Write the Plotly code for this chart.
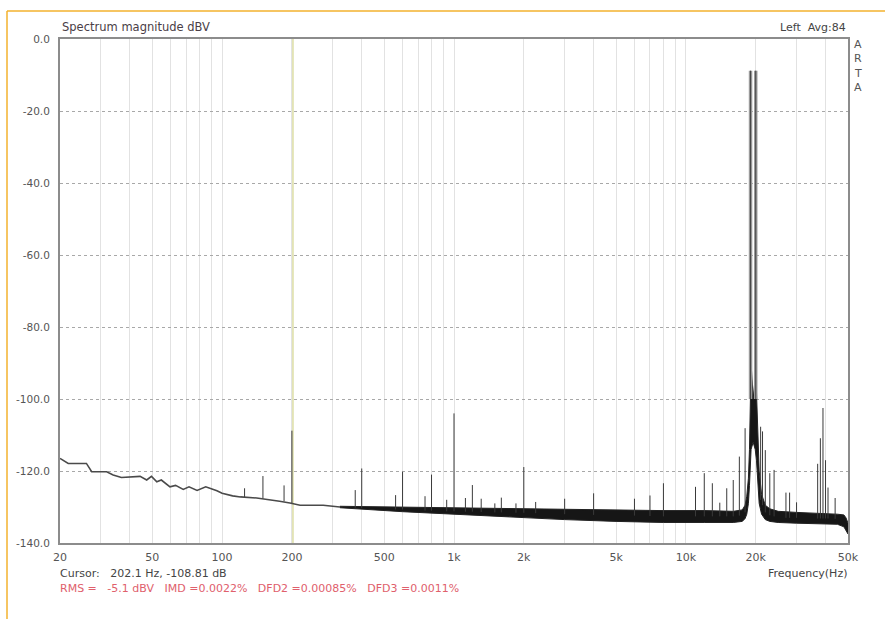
import plotly.graph_objects as go

# ---------------- data ----------------
# low-frequency part: a single thin line
low_freq = [20, 21.7, 26, 27.4, 31.8, 33.9, 36.8, 44.3, 47.3, 49.6, 52.3, 54.7, 59.6, 63, 68, 72, 78,
            85, 95, 100, 111, 120, 141, 166, 177, 196, 217, 273, 322]
low_db = [-116.5, -117.9, -117.9, -120.2, -120.2, -121.1, -121.8, -121.5, -122.5, -121.5, -123.0,
          -122.5, -124.4, -124.0, -125.1, -124.4, -125.4, -124.4, -125.5, -126.2, -126.9, -127.2,
          -127.5, -128.0, -128.4, -128.9, -129.5, -129.5, -130.0]

# higher-frequency part: a noisy band (upper and lower edges)
band_freq = [322, 418, 600, 1000, 1500, 2000, 3000, 5000, 8000, 12000, 16000, 17500, 18000, 18300,
             18600, 18800, 18950, 19100, 19500, 19900, 20150, 20400, 20700, 21200, 22000, 23000,
             25000, 30000, 40000, 45000, 48000, 49000, 50000]
band_hi = [-129.8, -129.9, -130.0, -130.2, -130.4, -130.6, -130.8, -131.0, -131.0, -131.0, -131.2,
           -130.8, -129.5, -127.0, -122.0, -114.0, -100.0, -90.0, -100.0, -94.0, -98.0, -110.0,
           -120.0, -126.5, -129.5, -130.5, -131.2, -131.5, -131.8, -132.0, -132.2, -133.0, -134.5]
band_lo = [-130.2, -130.7, -131.3, -132.0, -132.6, -133.0, -133.5, -134.0, -134.3, -134.3, -134.3,
           -134.0, -133.2, -132.0, -129.0, -124.0, -118.0, -114.0, -112.0, -114.0, -117.0, -124.0,
           -129.0, -132.0, -133.5, -134.0, -134.3, -134.5, -134.6, -134.8, -135.5, -136.5, -137.5]

spike_freq = [125, 150, 185, 200, 375, 400, 560, 600, 750, 800, 930, 1000, 1120, 1200, 1310, 1500,
              1600, 1850, 2000, 2250, 3000, 4000, 6000, 7000, 8000, 11000, 12000, 13000, 14000, 15000,
              16000, 17000, 18000, 21000, 21400, 22000, 23000, 24000, 27000, 28000, 30000, 37000,
              38000, 39000, 40000, 41000, 44000]
spike_peak = [-124.8, -121.4, -124.0, -108.8, -125.3, -119.3, -126.7, -120.2, -127.0, -121.0, -128.0,
              -104.0, -127.5, -123.9, -127.7, -129.0, -127.4, -129.0, -118.9, -128.6, -127.7, -126.2,
              -127.7, -126.8, -123.4, -124.4, -120.6, -123.4, -128.8, -124.8, -122.5, -116.0, -108.1,
              -107.7, -109.0, -114.2, -120.6, -119.7, -126.0, -126.0, -128.7, -118.0, -110.9, -102.5,
              -117.0, -124.6, -127.5]
spike_base = [-127.2, -127.6, -128.4, -128.9, -130.2, -130.3, -130.7, -130.7, -131.0, -131.0, -131.2,
              -131.2, -131.3, -131.3, -131.4, -131.5, -131.5, -131.6, -131.6, -131.7, -132.0, -132.2,
              -132.4, -132.5, -132.6, -132.6, -132.6, -132.6, -132.6, -132.6, -132.6, -132.4, -131.5,
              -128.0, -129.5, -131.5, -132.3, -132.6, -133.0, -133.0, -133.0, -133.2, -133.2, -133.2,
              -133.2, -133.2, -133.3]

tone_freq = [19000, 20000]
tone_peak = [-8.8, -8.8]
tone_base = [-100.0, -100.0]

cursor_freq = 202.1

y_ticks = [0, -20, -40, -60, -80, -100, -120, -140]
y_labels = ["0.0", "-20.0", "-40.0", "-60.0", "-80.0", "-100.0", "-120.0", "-140.0"]

grid_freq = [20, 30, 40, 50, 60, 70, 80, 90, 100, 200, 300, 400, 500, 600, 700, 800, 900, 1000,
             2000, 3000, 4000, 5000, 6000, 7000, 8000, 9000, 10000, 20000, 30000, 40000, 50000]
label_map = {20: "20", 50: "50", 100: "100", 200: "200", 500: "500", 1000: "1k", 2000: "2k",
             5000: "5k", 10000: "10k", 20000: "20k", 50000: "50k"}

# ---------------- figure ----------------
FONT = "DejaVu Sans"
fig = go.Figure()

# cursor line
fig.add_trace(go.Scatter(x=[cursor_freq, cursor_freq], y=[-140, 0], mode="lines",
                         line=dict(color="#d2d48c", width=1.2), hoverinfo="skip"))

# low-frequency floor line
fig.add_trace(go.Scatter(x=low_freq, y=low_db, mode="lines",
                         line=dict(color="#4a4a4a", width=1.6), hoverinfo="skip"))

# noise floor band
fig.add_trace(go.Scatter(x=band_freq, y=band_lo, mode="lines",
                         line=dict(color="#222222", width=1), hoverinfo="skip"))
fig.add_trace(go.Scatter(x=band_freq, y=band_hi, mode="lines", fill="tonexty",
                         fillcolor="#161616", line=dict(color="#222222", width=1), hoverinfo="skip"))

# spikes
sx, sy = [], []
for f, p, b in zip(spike_freq, spike_peak, spike_base):
    sx += [f, f, None]
    sy += [b, p, None]
fig.add_trace(go.Scatter(x=sx, y=sy, mode="lines", line=dict(color="#3a3a3a", width=1),
                         hoverinfo="skip"))

# main tones
tx, ty = [], []
for f, p, b in zip(tone_freq, tone_peak, tone_base):
    tx += [f, f, None]
    ty += [b, p, None]
fig.add_trace(go.Scatter(x=tx, y=ty, mode="lines", line=dict(color="#9a9a9a", width=3.5),
                         hoverinfo="skip"))
fig.add_trace(go.Scatter(x=tx, y=ty, mode="lines", line=dict(color="#444444", width=1),
                         hoverinfo="skip"))

L, R, T, B = 60, 37, 39, 76
W, H = 885, 619
pw, ph = W - L - R, H - T - B


def px(x):
    return (x - L) / pw


def py(y):
    return (H - B - y) / ph


fig.update_layout(
    width=W, height=H,
    margin=dict(l=L, r=R, t=T, b=B),
    paper_bgcolor="white", plot_bgcolor="white",
    showlegend=False,
    font=dict(family=FONT, size=11, color="#444"),
    xaxis=dict(type="log", range=[1.30103, 4.69897], tickmode="array",
               tickvals=grid_freq, ticktext=[label_map.get(f, "") for f in grid_freq],
               showgrid=True, gridcolor="#e2e2e2", gridwidth=1,
               showline=True, linecolor="#8c8c8c", linewidth=2, mirror=True,
               ticks="", ticklabelstandoff=3, zeroline=False,
               tickfont=dict(family=FONT, size=11, color="#555")),
    yaxis=dict(range=[-140, 0], tickmode="array", tickvals=y_ticks, ticktext=y_labels,
               showgrid=True, gridcolor="#a8a8a8", griddash="dot", gridwidth=1,
               showline=True, linecolor="#8c8c8c", linewidth=2, mirror=True,
               ticks="", ticklabelstandoff=6, zeroline=False,
               tickfont=dict(family=FONT, size=10.5, color="#555")),
)

# orange border (top and left)
fig.add_shape(type="line", xref="paper", yref="paper", x0=px(7), x1=px(890), y0=py(11), y1=py(11),
              line=dict(color="#f3b22e", width=1.5))
fig.add_shape(type="line", xref="paper", yref="paper", x0=px(7), x1=px(7), y0=py(11), y1=py(625),
              line=dict(color="#f3b22e", width=1.5))

ann = [
    dict(text="Spectrum magnitude dBV", x=px(60), y=py(27), xanchor="left", size=11.5, color="#4a3d46"),
    dict(text="Left\u00a0\u00a0Avg:84", x=px(848), y=py(27), xanchor="right", size=11, color="#444"),
    dict(text="Cursor:\u00a0\u00a0\u00a0202.1 Hz, -108.81 dB", x=px(58), y=py(573), xanchor="left",
         size=11, color="#444"),
    dict(text="Frequency(Hz)", x=px(849), y=py(573), xanchor="right", size=11, color="#444"),
    dict(text="RMS =\u00a0\u00a0\u00a0-5.1 dBV\u00a0\u00a0\u00a0IMD =0.0022%\u00a0\u00a0\u00a0DFD2 =0.00085%"
              "\u00a0\u00a0\u00a0DFD3 =0.0011%",
         x=px(58), y=py(588), xanchor="left", size=11, color="#e0606c"),
]
for a in ann:
    fig.add_annotation(text=a["text"], x=a["x"], y=a["y"], xref="paper", yref="paper",
                       xanchor=a["xanchor"], yanchor="middle", showarrow=False,
                       font=dict(family=FONT, size=a["size"], color=a["color"]))

for letter, yy in zip("ARTA", [45, 59, 73, 87]):
    fig.add_annotation(text=letter, x=px(858), y=py(yy), xref="paper", yref="paper",
                       xanchor="center", yanchor="middle", showarrow=False,
                       font=dict(family=FONT, size=11, color="#555"))

fig.write_html("out.html")
